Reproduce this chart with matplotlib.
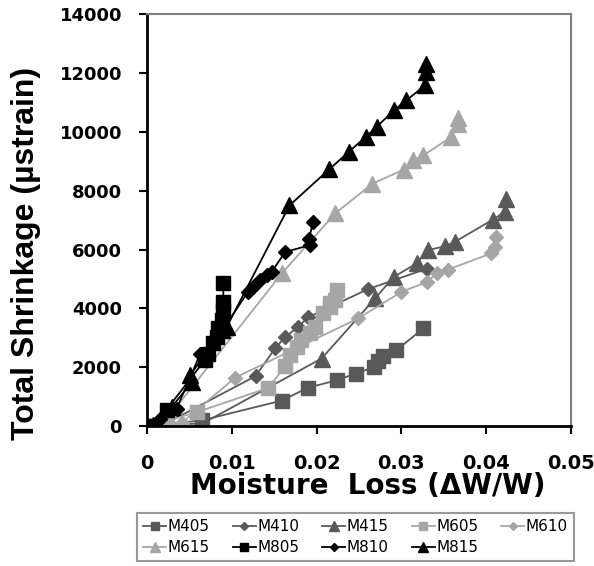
import numpy as np
import matplotlib
matplotlib.use("Agg")
import matplotlib.pyplot as plt

# moisture loss (dW/W) and total shrinkage (microstrain)
m405_x = [0, 0.0065, 0.0159, 0.019, 0.0224, 0.0246, 0.0268, 0.0273, 0.0278, 0.0294, 0.0326]
m405_y = [0, 200, 870, 1310, 1560, 1790, 2000, 2200, 2400, 2580, 3320]

m410_x = [0, 0.002, 0.0128, 0.0151, 0.0163, 0.0178, 0.019, 0.0261, 0.033]
m410_y = [0, 60, 1700, 2640, 3030, 3370, 3700, 4660, 5350]

m415_x = [0, 0.0066, 0.0206, 0.0269, 0.0291, 0.0318, 0.0331, 0.0351, 0.0363, 0.0408, 0.0422, 0.0423]
m415_y = [0, 100, 2300, 4340, 5070, 5530, 5980, 6110, 6260, 7020, 7280, 7730]

m605_x = [0, 0.0059, 0.0143, 0.0163, 0.0169, 0.0177, 0.0182, 0.0192, 0.0198, 0.0208,
          0.0216, 0.0216, 0.0222, 0.0224]
m605_y = [0, 480, 1300, 2040, 2410, 2690, 2920, 3150, 3370, 3830, 4050, 4170, 4280, 4620]

m610_x = [0, 0.0041, 0.0104, 0.0249, 0.03, 0.033, 0.0342, 0.0355, 0.0406, 0.041, 0.0412]
m610_y = [0, 110, 1650, 3660, 4560, 4900, 5190, 5320, 5870, 6090, 6430]

m615_x = [0, 0.0025, 0.0159, 0.0222, 0.0266, 0.0303, 0.0314, 0.0326, 0.0359, 0.0367, 0.0367]
m615_y = [0, 300, 5190, 7230, 8240, 8720, 9030, 9200, 9830, 10280, 10460]

m805_x = [0, 0.0023, 0.0068, 0.0072, 0.0078, 0.0082, 0.0084, 0.0088, 0.009, 0.009, 0.009]
m805_y = [0, 560, 2240, 2470, 2810, 3030, 3320, 3600, 3940, 4220, 4850]

m810_x = [0, 0.0015, 0.0035, 0.0063, 0.0083, 0.0119, 0.0125, 0.0133, 0.0141, 0.0147,
          0.0163, 0.0192, 0.0191, 0.0196]
m810_y = [0, 250, 600, 2470, 3000, 4560, 4730, 4960, 5130, 5240, 5920, 6150, 6370, 6940]

m815_x = [0, 0.0007, 0.0029, 0.0053, 0.0051, 0.0088, 0.0094, 0.0168, 0.0215, 0.0238,
          0.0258, 0.0271, 0.0291, 0.0306, 0.0328, 0.0329, 0.0329]
m815_y = [0, 50, 650, 1500, 1730, 3260, 3370, 7500, 8730, 9320, 9830, 10170, 10730,
          11070, 11580, 12030, 12320]

names = ['M405', 'M410', 'M415', 'M605', 'M610', 'M615', 'M805', 'M810', 'M815']
xs = [m405_x, m410_x, m415_x, m605_x, m610_x, m615_x, m805_x, m810_x, m815_x]
ys = [m405_y, m410_y, m415_y, m605_y, m610_y, m615_y, m805_y, m810_y, m815_y]

dark, light, black = '#595959', '#a6a6a6', '#000000'
colors = [dark, dark, dark, light, light, light, black, black, black]
markers = ['s', 'D', '^'] * 3
sizes = {'s': 10, 'D': 7.5, '^': 11}

fig = plt.figure(figsize=(5.94, 5.66), dpi=100)
ax = fig.add_axes([0.2475, 0.247, 0.7135, 0.728])

handles = []
for n, x, y, c, m in zip(names, xs, ys, colors, markers):
    h, = ax.plot(x, y, color=c, lw=1.3, marker=m, ms=sizes[m], mec=c, mfc=c, label=n)
    handles.append(h)

ax.set_xlim(0, 0.05)
ax.set_ylim(0, 14000)
ax.set_xticks(np.arange(0, 0.051, 0.01))
ax.set_xticklabels(['0', '0.01', '0.02', '0.03', '0.04', '0.05'])
ax.set_yticks(np.arange(0, 14001, 2000))
ax.tick_params(axis='x', direction='out', length=6, width=1.5, pad=14, labelsize=14)
ax.tick_params(axis='y', direction='out', length=6, width=1.5, pad=12, labelsize=13)
for lab in ax.get_xticklabels() + ax.get_yticklabels():
    lab.set_fontweight('bold')

for s in ['left', 'bottom']:
    ax.spines[s].set_linewidth(2)
    ax.spines[s].set_color('black')
for s in ['top', 'right']:
    ax.spines[s].set_linewidth(1.5)
    ax.spines[s].set_color('#808080')

ax.set_xlabel('Moisture  Loss (\u0394W/W)', fontsize=20, fontweight='bold')
ax.xaxis.set_label_coords(0.521, -0.112)
ax.set_ylabel('Total Shrinkage (\u00b5strain)', fontsize=23, fontweight='bold',
              family='Liberation Sans')
ax.yaxis.set_label_coords(-0.25, 0.42)

# legend fills column by column, so reorder to read across rows
order = [0, 5, 1, 6, 2, 7, 3, 8, 4]
leg = fig.legend([handles[i] for i in order], [names[i] for i in order],
                 loc='center', bbox_to_anchor=(0.5985, 0.051), ncol=5, fontsize=11,
                 frameon=True, fancybox=False, edgecolor='#808080',
                 handlelength=1.5, handletextpad=0.1, columnspacing=1.5,
                 borderpad=0.4, labelspacing=0.4, markerscale=0.6)
leg.get_frame().set_linewidth(1.5)

fig.savefig('out.png', dpi=100)
